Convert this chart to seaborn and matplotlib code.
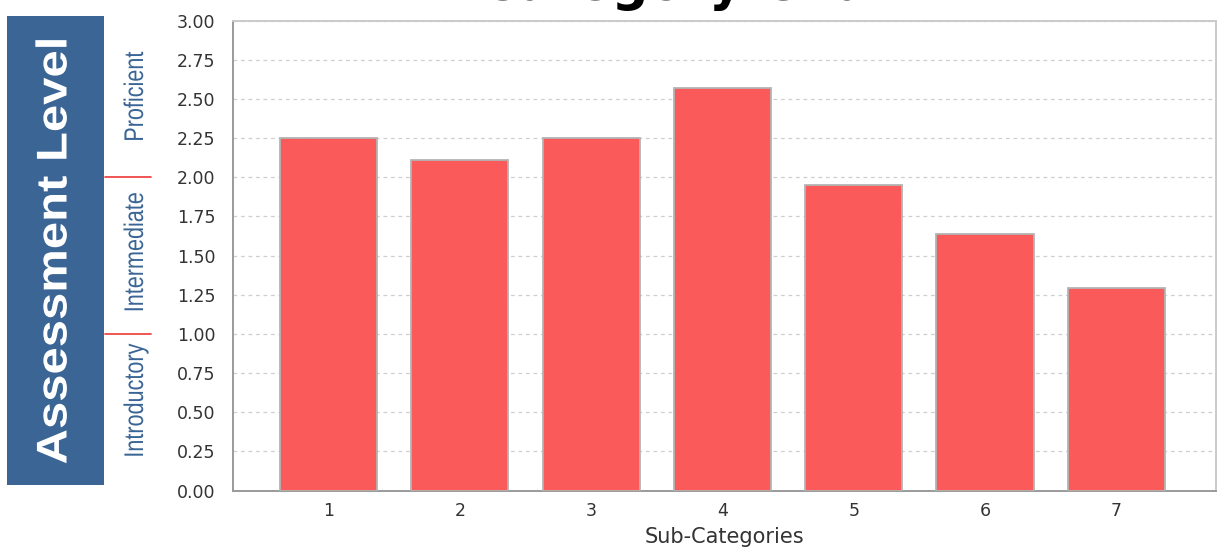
import matplotlib
matplotlib.use("Agg")
import matplotlib.pyplot as plt
import matplotlib.patches as mpatches
from matplotlib.font_manager import FontProperties
from matplotlib.textpath import TextPath
from matplotlib.transforms import Affine2D, blended_transform_factory
import pandas as pd
import seaborn as sns

# Chart data
categories = ["1", "2", "3", "4", "5", "6", "7"]
scores = [2.25, 2.11, 2.25, 2.57, 1.95, 1.64, 1.29]
level_names = ["Introductory", "Intermediate", "Proficient"]
level_bounds = [0.0, 1.0, 2.0, 3.0]
y_ticks = [i * 0.25 for i in range(13)]

df = pd.DataFrame({"Sub-Categories": categories, "Score": scores})

sns.set_theme(style="white")
plt.rcParams["font.family"] = ["DejaVu Sans"]

W, H = 1217, 549
DPI = 100
fig = plt.figure(figsize=(W / DPI, H / DPI), dpi=DPI)
fig.patch.set_facecolor("white")

ax = fig.add_axes([232.7 / W, 58.5 / H, 982.8 / W, 469.8 / H])

sns.barplot(data=df, x="Sub-Categories", y="Score", color="#fa5a5a",
            saturation=1, width=0.74, edgecolor="#b4b4b4", linewidth=1.3,
            ax=ax, zorder=3)

ax.set_xlim(-0.73, 6.755)
ax.set_ylim(level_bounds[0], level_bounds[-1])
ax.set_yticks(y_ticks)
ax.set_yticklabels([f"{v:.2f}" for v in y_ticks])

ax.yaxis.grid(True, color="#cfcfcf", linestyle=(0, (3, 3)), linewidth=0.9, zorder=0)
ax.xaxis.grid(False)
ax.set_axisbelow(True)

for side in ("left", "bottom"):
    ax.spines[side].set_color("#9a9a9a")
    ax.spines[side].set_linewidth(1.4)
for side in ("top", "right"):
    ax.spines[side].set_color("#cacaca")
    ax.spines[side].set_linewidth(1.4)

ax.tick_params(axis="y", which="major", direction="out", length=4.5, width=1,
               color="#9a9a9a", labelsize=12.5, labelcolor="#333333", pad=8)
ax.tick_params(axis="x", which="major", length=0, labelsize=12.5,
               labelcolor="#333333", pad=8)
ax.set_ylabel("")
ax.set_xlabel("Sub-Categories", fontsize=15, color="#333333", labelpad=5)

# Chart title, mostly above the top edge of the canvas
fig.text(700 / W, 1.0, "Category Chart", ha="center", va="baseline",
         fontsize=37, fontweight="bold", color="black")


def vertical_text(s, baseline_x, center_y, size, stretch, color, weight="normal"):
    """Draw text rotated 90 degrees as an outline, stretched along its length.

    baseline_x and center_y are pixel positions measured from the top-left.
    """
    prop = FontProperties(family="Liberation Sans", weight=weight)
    path = TextPath((0, 0), s, size=size, prop=prop)
    ext = path.get_extents()
    tr = (Affine2D()
          .translate(-(ext.x0 + ext.x1) / 2, 0)
          .scale(stretch, 1)
          .rotate_deg(90)
          .translate(baseline_x, H - center_y))
    fig.patches.append(mpatches.PathPatch(path, transform=tr, facecolor=color,
                                          edgecolor="none", lw=0))


# Side panel with the assessment scale
blue = "#3a6595"
fig.patches.append(mpatches.Rectangle((7.3 / W, (H - 485) / H), 97 / W, 469 / H,
                                      transform=fig.transFigure, facecolor=blue,
                                      edgecolor="none"))
vertical_text("Assessment Level", 66.5, 251.7, 43, 1.14, "white", weight="bold")

trans = blended_transform_factory(fig.transFigure, ax.transData)
for b in level_bounds[1:-1]:
    ax.plot([104.5 / W, 151 / W], [b, b], transform=trans, color="#f04848",
            linewidth=1.3, clip_on=False)

label_offsets = [0.08, 0.025, 0.02]
for name, lo, hi, off in zip(level_names, level_bounds[:-1], level_bounds[1:], label_offsets):
    y_px = H - ax.transData.transform((0, (lo + hi) / 2 + off))[1]
    vertical_text(name, 143, y_px, 27, 0.8, blue)

fig.savefig("out.png", dpi=DPI)
